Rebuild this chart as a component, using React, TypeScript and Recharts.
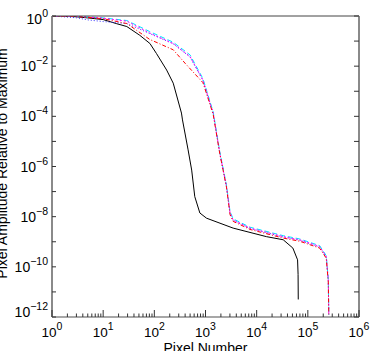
import { Line, LineChart, XAxis, YAxis } from "recharts";

// sorted pixel amplitudes
const BLACK_X = [1, 2, 3, 5, 10, 18, 29, 52, 82, 110, 174, 234, 339, 355, 457, 537, 617, 776, 1047, 3467, 15500, 33000, 51000, 63000, 64500, 65000];
const BLACK_Y = [1, 0.97, 0.93, 0.84, 0.72, 0.5, 0.38, 0.17, 0.08, 0.032, 7e-3, 2.1e-3, 1.35e-4, 7.2e-5, 4.6e-6, 7.2e-7, 6.3e-8, 1.4e-8, 8.7e-9, 3.5e-9, 1.6e-9, 1.2e-9, 5.6e-10, 1.9e-10, 5e-11, 5e-12];

const RED_X = [1, 3, 10, 29, 81, 234, 400, 891, 1413, 1905, 2570, 3020, 3467, 7400, 33000, 69000, 170000, 229000, 251000, 257000];
const RED_Y = [1, 0.96, 0.78, 0.5, 0.117, 0.045, 0.013, 2.2e-3, 1.2e-4, 3.2e-6, 1.5e-7, 1.2e-8, 6.5e-9, 3.1e-9, 1.4e-9, 1.05e-9, 5.6e-10, 2.2e-10, 2.5e-11, 1.2e-12];

const MAGENTA_X = [1, 3, 10, 29, 81, 234, 500, 891, 1413, 1905, 2570, 3020, 3467, 7400, 33000, 69000, 170000, 229000, 251000, 257000];
const MAGENTA_Y = [1, 0.97, 0.82, 0.62, 0.21, 0.08, 0.024, 2.8e-3, 1.35e-4, 3.4e-6, 1.6e-7, 1.4e-8, 7.4e-9, 3.5e-9, 1.6e-9, 1.2e-9, 6.5e-10, 2.6e-10, 3e-11, 1.2e-12];

const CYAN_X = [1, 3, 10, 29, 81, 234, 500, 891, 1413, 1905, 2570, 3020, 3467, 7400, 33000, 69000, 170000, 229000, 251000, 257000];
const CYAN_Y = [1, 0.97, 0.84, 0.66, 0.24, 0.09, 0.028, 3.2e-3, 1.5e-4, 3.8e-6, 1.8e-7, 1.6e-8, 8.2e-9, 3.8e-9, 1.75e-9, 1.3e-9, 7e-10, 2.8e-10, 3.2e-11, 1.2e-12];

const BLUE_X = [1, 3, 5, 10, 29, 81, 234, 500, 891, 1413, 1905, 2570, 3020, 3467, 7400, 33000, 69000, 170000, 229000, 251000, 257000];
const BLUE_Y = [1, 0.85, 0.7, 0.6, 0.5, 0.2, 0.078, 0.023, 2.7e-3, 1.3e-4, 3.3e-6, 1.6e-7, 1.35e-8, 7.2e-9, 3.4e-9, 1.55e-9, 1.15e-9, 6.2e-10, 2.5e-10, 2.9e-11, 1.2e-12];

const X_DECADES = [1, 10, 100, 1e3, 1e4, 1e5, 1e6];
const Y_DECADES = [1, 1e-1, 1e-2, 1e-3, 1e-4, 1e-5, 1e-6, 1e-7, 1e-8, 1e-9, 1e-10, 1e-11, 1e-12];
const X_TICKS = X_DECADES.flatMap((d, i) =>
  i === X_DECADES.length - 1 ? [d] : [1, 2, 3, 4, 5, 6, 7, 8, 9].map((m) => m * d)
);

const toPoints = (xs: number[], ys: number[]) => xs.map((x, i) => ({ x, y: ys[i] }));

const SERIES = [
  { key: "black", data: toPoints(BLACK_X, BLACK_Y), color: "#000000", dash: undefined },
  { key: "blue", data: toPoints(BLUE_X, BLUE_Y), color: "#3030ff", dash: "1 2" },
  { key: "cyan", data: toPoints(CYAN_X, CYAN_Y), color: "#00e5ff", dash: "5 3" },
  { key: "magenta", data: toPoints(MAGENTA_X, MAGENTA_Y), color: "#ff00ff", dash: "2 2" },
  { key: "red", data: toPoints(RED_X, RED_Y), color: "#ff0000", dash: "4 2 1 2" },
];

const FONT = "'Liberation Sans', Arial, sans-serif";
const TICK_COLOR = "#333";
const FRAME = "#8a8a8a";

const exp10 = (v: number) => Math.round(Math.log10(v));
const isDecade = (v: number) => Math.abs(Math.log10(v) - exp10(v)) < 1e-9;

function Pow({ e }: { e: number }) {
  return (
    <>
      <tspan>10</tspan>
      <tspan dy={-7} fontSize={10.5}>
        {e < 0 ? `\u2212${-e}` : `${e}`}
      </tspan>
    </>
  );
}

function BottomTick({ x, y, payload }: any) {
  const v = payload.value;
  const major = isDecade(v);
  return (
    <g>
      <line x1={x} x2={x} y1={y} y2={y - (major ? 7 : 3.5)} stroke={TICK_COLOR} />
      {major && (
        <text x={x} y={y + 20} textAnchor="middle" fontSize={13.5} fontFamily={FONT} fill="#000">
          <Pow e={exp10(v)} />
        </text>
      )}
    </g>
  );
}

function TopTick({ x, y, payload }: any) {
  const major = isDecade(payload.value);
  return <line x1={x} x2={x} y1={y} y2={y + (major ? 7 : 3.5)} stroke={TICK_COLOR} />;
}

function LeftTick({ x, y, payload }: any) {
  const e = exp10(payload.value);
  const dy = e === 0 ? 8 : e === -12 ? 0 : 5;
  return (
    <g>
      <line x1={x} x2={x + 4} y1={y} y2={y} stroke={TICK_COLOR} />
      {e % 2 === 0 && (
        <text x={x - 4} y={y + dy} textAnchor="end" fontSize={14} fontFamily={FONT} fill="#000">
          <Pow e={e} />
        </text>
      )}
    </g>
  );
}

function RightTick({ x, y }: any) {
  return <line x1={x} x2={x - 5} y1={y} y2={y} stroke={TICK_COLOR} />;
}

export default function App() {
  return (
    <div style={{ width: 374, height: 351, background: "#fff" }}>
      <style>{`body{margin:0}`}</style>
      <LineChart width={374} height={351} margin={{ top: 0, right: 0, bottom: 0, left: 0 }}>
        <XAxis
          dataKey="x"
          type="number"
          scale="log"
          domain={[1, 1e6]}
          allowDataOverflow
          ticks={X_TICKS}
          interval={0}
          height={34}
          tickSize={0}
          tickMargin={0}
          tick={<BottomTick />}
          axisLine={{ stroke: FRAME, strokeWidth: 1.5 }}
          label={{
            content: ({ viewBox }: any) => (
              <text x={viewBox.x + viewBox.width / 2} y={viewBox.y + viewBox.height + 2} textAnchor="middle" fontSize={14} fontFamily={FONT} fill="#000">
                Pixel Number
              </text>
            ),
          }}
        />
        <XAxis
          xAxisId="top"
          orientation="top"
          type="number"
          scale="log"
          domain={[1, 1e6]}
          allowDataOverflow
          ticks={X_TICKS}
          interval={0}
          height={16}
          tickSize={0}
          tickMargin={0}
          tick={<TopTick />}
          axisLine={{ stroke: "#444", strokeWidth: 1 }}
        />
        <YAxis
          type="number"
          scale="log"
          domain={[1e-12, 1]}
          allowDataOverflow
          ticks={Y_DECADES}
          interval={0}
          width={52}
          tickSize={0}
          tickMargin={0}
          tick={<LeftTick />}
          axisLine={{ stroke: FRAME, strokeWidth: 2 }}
          label={{
            content: ({ viewBox }: any) => {
              const cy = viewBox.y + viewBox.height / 2 - 3;
              return (
                <text x={7} y={cy} transform={`rotate(-90 7 ${cy})`} textAnchor="middle" fontSize={14} fontFamily={FONT} fill="#000">
                  Pixel Amplitude Relative to Maximum
                </text>
              );
            },
          }}
        />
        <YAxis
          yAxisId="right"
          orientation="right"
          type="number"
          scale="log"
          domain={[1e-12, 1]}
          allowDataOverflow
          ticks={Y_DECADES}
          interval={0}
          width={15}
          tickSize={0}
          tickMargin={0}
          tick={<RightTick />}
          axisLine={{ stroke: FRAME, strokeWidth: 2 }}
        />
        {SERIES.map((s) => (
          <Line
            key={s.key}
            data={s.data}
            dataKey="y"
            type="linear"
            stroke={s.color}
            strokeWidth={1}
            strokeDasharray={s.dash}
            dot={false}
            isAnimationActive={false}
          />
        ))}
      </LineChart>
    </div>
  );
}
